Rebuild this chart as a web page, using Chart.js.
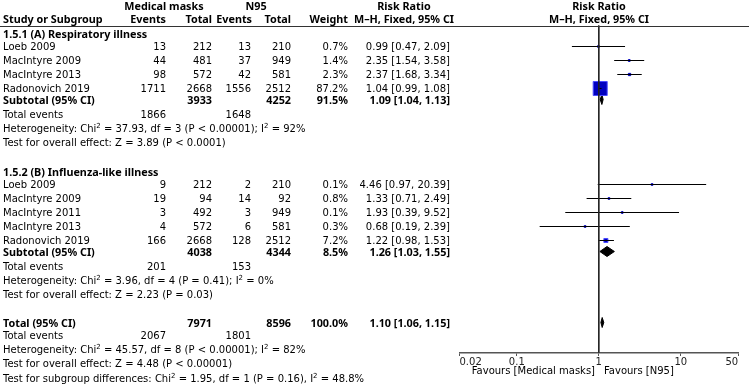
<!DOCTYPE html>
<html>
<head>
<meta charset="utf-8">
<script src="https://cdn.jsdelivr.net/npm/chart.js@4.4.0/dist/chart.umd.min.js"></script>
<style>
  body { margin: 0; background: #fff; }
  #wrap { position: relative; width: 749px; height: 389px; overflow: hidden;
          font-family: "DejaVu Sans", sans-serif; font-size: 10px; color: #000; }
  #plot { position: absolute; left: 0; top: 0; }
  .t { position: absolute; line-height: 14px; white-space: nowrap; }
  .b { font-family: "Noto Sans", sans-serif; font-size: 10.8px; font-weight: bold; }
  .rule { position: absolute; left: 0; width: 749px; top: 26px; height: 1px; background: #333; }
  sup { font-size: 7px; line-height: 0; vertical-align: 4px; }
</style>
</head>
<body>
<div id="wrap">
  <canvas id="plot" width="749" height="389"></canvas>
  <div class="rule"></div>
</div>
<script>
// 1.5.1 (A) Respiratory illness
const studiesA = ["Loeb 2009", "MacIntyre 2009", "MacIntyre 2013", "Radonovich 2019"];
const eventsMaskA = [13, 44, 98, 1711];
const totalMaskA = [212, 481, 572, 2668];
const eventsN95A = [13, 37, 42, 1556];
const totalN95A = [210, 949, 581, 2512];
const weightA = [0.7, 1.4, 2.3, 87.2];
const rrA = [0.99, 2.35, 2.37, 1.04];
const lowA = [0.47, 1.54, 1.68, 0.99];
const highA = [2.09, 3.58, 3.34, 1.08];

// 1.5.2 (B) Influenza-like illness
const studiesB = ["Loeb 2009", "MacIntyre 2009", "MacIntyre 2011", "MacIntyre 2013", "Radonovich 2019"];
const eventsMaskB = [9, 19, 3, 4, 166];
const totalMaskB = [212, 94, 492, 572, 2668];
const eventsN95B = [2, 14, 3, 6, 128];
const totalN95B = [210, 92, 949, 581, 2512];
const weightB = [0.1, 0.8, 0.1, 0.3, 7.2];
const rrB = [4.46, 1.33, 1.93, 0.68, 1.22];
const lowB = [0.97, 0.71, 0.39, 0.19, 0.98];
const highB = [20.39, 2.49, 9.52, 2.39, 1.53];

// pooled: subgroup A, subgroup B, overall
const pooledLabels = ["Subtotal (95% CI)", "Subtotal (95% CI)", "Total (95% CI)"];
const pooledMaskTotal = [3933, 4038, 7971];
const pooledN95Total = [4252, 4344, 8596];
const pooledWeight = [91.5, 8.5, 100.0];
const pooledRR = [1.09, 1.26, 1.10];
const pooledLow = [1.04, 1.03, 1.06];
const pooledHigh = [1.13, 1.55, 1.15];
const pooledEventsMask = [1866, 201, 2067];
const pooledEventsN95 = [1648, 153, 1801];
const heterogeneity = [
  "Heterogeneity: Chi<sup>2</sup> = 37.93, df = 3 (P &lt; 0.00001); I<sup>2</sup> = 92%",
  "Heterogeneity: Chi<sup>2</sup> = 3.96, df = 4 (P = 0.41); I<sup>2</sup> = 0%",
  "Heterogeneity: Chi<sup>2</sup> = 45.57, df = 8 (P &lt; 0.00001); I<sup>2</sup> = 82%"
];
const overallEffect = [
  "Test for overall effect: Z = 3.89 (P &lt; 0.0001)",
  "Test for overall effect: Z = 2.23 (P = 0.03)",
  "Test for overall effect: Z = 4.48 (P &lt; 0.00001)"
];
const subgroupTest = "Test for subgroup differences: Chi<sup>2</sup> = 1.95, df = 1 (P = 0.16), I<sup>2</sup> = 48.8%";

const xTicks = [0.02, 0.1, 1, 10, 50];

// layout
const W = 749, H = 389;
const Y_TOP = 26, Y_AXIS = 353;
const LINE = 14;
const col = { name: 3, evM: 166, totM: 212, evN: 251, totN: 291, wt: 348, rr: 450, rrHead: 404, plot: 599 };

const wrap = document.getElementById("wrap");
function put(html, x, y, align, bold) {
  const el = document.createElement("div");
  el.className = "t" + (bold ? " b" : "");
  el.innerHTML = html;
  el.style.top = (y - 7) + "px";
  if (align === "right") el.style.right = (W - x) + "px";
  else if (align === "center") { el.style.left = x + "px"; el.style.transform = "translateX(-50%)"; }
  else el.style.left = x + "px";
  wrap.appendChild(el);
}
const ci = (r, l, h) => `${r.toFixed(2)} [${l.toFixed(2)}, ${h.toFixed(2)}]`;

// header
put("Medical masks", 164, 6, "center", true);
put("N95", 256, 6, "center", true);
put("Risk Ratio", col.rrHead, 6, "center", true);
put("Risk Ratio", col.plot, 6, "center", true);
put("Study or Subgroup", col.name, 19, "left", true);
put("Events", col.evM, 19, "right", true);
put("Total", col.totM, 19, "right", true);
put("Events", col.evN + 1, 19, "right", true);
put("Total", col.totN, 19, "right", true);
put("Weight", col.wt, 19, "right", true);
put("M–H, Fixed, 95% CI", col.rrHead, 19, "center", true);
put("M–H, Fixed, 95% CI", col.plot, 19, "center", true);

// table body, collecting row positions for the plot
const studyRows = [];   // {rr, lo, hi, w, y}
const pooledRows = [];  // {rr, lo, hi, y}
let y = 34;

function group(title, names, eM, tM, eN, tN, w, rr, lo, hi, g) {
  put(title, col.name, y, "left", true);
  y += 13;
  names.forEach((n, i) => {
    put(n, col.name, y);
    put(eM[i], col.evM, y, "right");
    put(tM[i], col.totM, y, "right");
    put(eN[i], col.evN, y, "right");
    put(tN[i], col.totN, y, "right");
    put(w[i].toFixed(1) + "%", col.wt, y, "right");
    put(ci(rr[i], lo[i], hi[i]), col.rr, y, "right");
    studyRows.push({ rr: rr[i], lo: lo[i], hi: hi[i], w: w[i], y: y });
    y += LINE;
  });
  y -= 3;
  pooledRow(g);
  y += 15;
  put("Total events", col.name, y);
  put(pooledEventsMask[g], col.evM, y, "right");
  put(pooledEventsN95[g], col.evN, y, "right");
  y += LINE;
  put(heterogeneity[g], col.name, y);
  y += LINE;
  put(overallEffect[g], col.name, y);
}
function pooledRow(g) {
  put(pooledLabels[g], col.name, y, "left", true);
  put(pooledMaskTotal[g], col.totM, y, "right", true);
  put(pooledN95Total[g], col.totN, y, "right", true);
  put(pooledWeight[g].toFixed(1) + "%", col.wt, y, "right", true);
  put(ci(pooledRR[g], pooledLow[g], pooledHigh[g]), col.rr, y, "right", true);
  pooledRows.push({ rr: pooledRR[g], lo: pooledLow[g], hi: pooledHigh[g], y: y });
}

group("1.5.1 (A) Respiratory illness", studiesA, eventsMaskA, totalMaskA, eventsN95A, totalN95A, weightA, rrA, lowA, highA, 0);
y += 29;
group("1.5.2 (B) Influenza-like illness", studiesB, eventsMaskB, totalMaskB, eventsN95B, totalN95B, weightB, rrB, lowB, highB, 1);
y += 28;
pooledRow(2);
y += 13;
put("Total events", col.name, y);
put(pooledEventsMask[2], col.evM, y, "right");
put(pooledEventsN95[2], col.evN, y, "right");
y += LINE;
put(heterogeneity[2], col.name, y);
y += LINE;
put(overallEffect[2], col.name, y);
y += 15;
put(subgroupTest, col.name, y);

put("Favours [Medical masks]", 595, 371, "right");
put("Favours [N95]", 604, 371, "left");

// plot
const datasets = [];
datasets.push({
  data: [{ x: 1, y: Y_TOP }, { x: 1, y: Y_AXIS }],
  showLine: true, borderColor: "#222", borderWidth: 1, pointRadius: 0
});
studyRows.forEach(s => {
  datasets.push({
    data: [{ x: s.lo, y: s.y }, { x: s.hi, y: s.y }],
    showLine: true, borderColor: "#000", borderWidth: 1, pointRadius: 0
  });
});
datasets.push({
  data: studyRows.map(s => ({ x: s.rr, y: s.y })),
  pointStyle: "rect",
  pointRadius: studyRows.map(s => Math.max(1.2, 9.9 * Math.sqrt(s.w / 87.2))),
  backgroundColor: "#0000c0",
  borderColor: studyRows.map(s => s.w > 5 ? "#4a4aff" : "#0000c0"),
  borderWidth: 1
});
pooledRows.forEach(p => {
  datasets.push({
    data: [
      { x: p.lo, y: p.y }, { x: p.rr, y: p.y - 5 }, { x: p.hi, y: p.y },
      { x: p.rr, y: p.y + 5 }, { x: p.lo, y: p.y }
    ],
    showLine: true, fill: "shape", backgroundColor: "#000", borderColor: "#000",
    borderWidth: 1, pointRadius: 0
  });
});

new Chart(document.getElementById("plot"), {
  type: "scatter",
  data: { datasets: datasets },
  options: {
    responsive: false,
    animation: false,
    devicePixelRatio: 1,
    clip: false,
    layout: { padding: { left: 459.5, right: 9.5, top: Y_TOP, bottom: 0 } },
    plugins: { legend: { display: false }, tooltip: { enabled: false } },
    elements: { line: { tension: 0 } },
    scales: {
      x: {
        type: "logarithmic",
        min: 0.02, max: 50,
        afterBuildTicks: s => { s.ticks = xTicks.map(v => ({ value: v })); },
        afterFit: s => { s.height = H - Y_AXIS; },
        ticks: {
          color: "#222", padding: 0, maxRotation: 0, autoSkip: false, align: "inner",
          font: { family: "DejaVu Sans", size: 10 },
          callback: v => String(v)
        },
        grid: { drawOnChartArea: false, drawTicks: true, tickLength: 3, color: "#555" },
        border: { color: "#555", width: 1.5 }
      },
      // y values are row centres from the table layout; half-pixel shift keeps 1px lines crisp
      y: { type: "linear", display: false, reverse: true, min: Y_TOP + 0.5, max: Y_AXIS + 0.5 }
    }
  }
});
</script>
</body>
</html>
